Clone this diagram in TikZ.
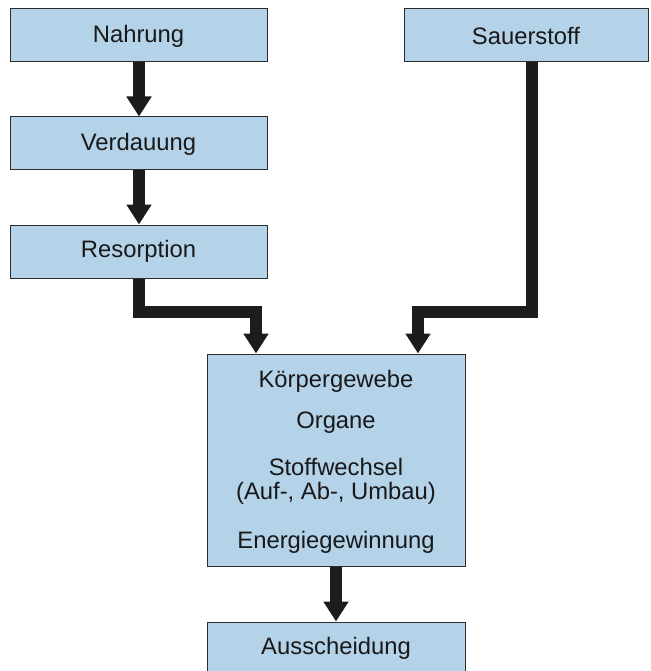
\documentclass[tikz,border=0pt]{standalone}
\usepackage{fontspec}
\setmainfont{Liberation Sans}
\usetikzlibrary{arrows.meta}
\definecolor{boxfill}{RGB}{180,210,232}
\definecolor{boxline}{RGB}{45,45,45}
\definecolor{arrcol}{RGB}{28,28,28}
\definecolor{txtcol}{RGB}{25,25,25}
\tikzset{
  box/.style={draw=boxline, line width=1pt, fill=boxfill, inner sep=0pt, text=txtcol,
    font=\fontsize{23.8}{28}\selectfont},
  lbl/.style={inner sep=0pt, text=txtcol, font=\fontsize{23.8}{28}\selectfont},
  arr/.style={draw=arrcol, line width=12pt, line join=miter,
    -{Triangle[width=24pt,length=20pt]}}
}
\begin{document}
\begin{tikzpicture}[x=1pt,y=-1pt]
\useasboundingbox (0,0) rectangle (650,671);
\clip (0,0) rectangle (650,671);
\node[box, minimum width=257pt, minimum height=53pt] (nahrung) at (138.5,35.5) {};
\node[lbl] (n1) at (138.5,36) {Nahrung};
\node[box, minimum width=257pt, minimum height=53pt] (verdauung) at (138.5,143.5) {};
\node[lbl] (n2) at (138.5,144) {Verdauung};
\node[box, minimum width=257pt, minimum height=53pt] (resorption) at (138.5,251.5) {};
\node[lbl] (n3) at (138.5,251) {Resorption};
\node[box, minimum width=244pt, minimum height=53pt] (sauer) at (526,35.5) {};
\node[lbl] (n4) at (526,36) {Sauerstoff};
\node[box, minimum width=258pt, minimum height=212pt] (koerper) at (336,460) {};
\node[lbl] (t1) at (336,381) {Körpergewebe};
\node[lbl] (t2) at (336,423) {Organe};
\node[lbl] (t3) at (336,467) {Stoffwechsel};
\node[lbl] (t4) at (336,493) {(Auf-, Ab-, Umbau)};
\node[lbl] (t5) at (336,542) {Energiegewinnung};
\node[box, minimum width=258pt, minimum height=53pt] (aus) at (336,648.5) {};
\node[lbl] (t6) at (336,648) {Ausscheidung};
\draw[arr] ([xshift=0.5pt]nahrung.south) -- ([xshift=0.5pt]verdauung.north);
\draw[arr] ([xshift=0.5pt]verdauung.south) -- ([xshift=0.5pt]resorption.north);
\draw[arr] ([xshift=0.5pt]resorption.south) -- ++(0,33) -| ([xshift=-80pt]koerper.north);
\draw[arr] ([xshift=6pt]sauer.south) -- ++(0,249) -| ([xshift=82pt]koerper.north);
\draw[arr] (koerper.south) -- (aus.north);
\end{tikzpicture}
\end{document}
